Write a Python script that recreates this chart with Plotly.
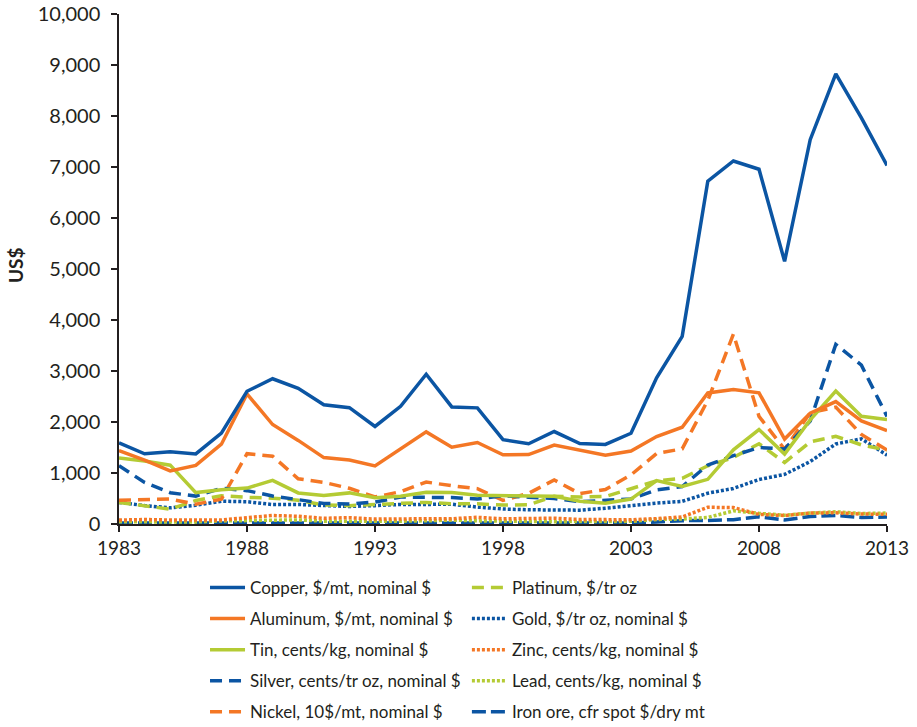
import plotly.graph_objects as go

years = list(range(1983, 2014))

copper = [1590, 1377, 1417, 1374, 1783, 2602, 2848, 2662, 2339, 2281, 1913, 2307, 2936, 2295, 2277,
          1654, 1573, 1813, 1578, 1560, 1779, 2866, 3679, 6722, 7118, 6956, 5150, 7535, 8828, 7962, 7030]
aluminum = [1439, 1251, 1041, 1150, 1565, 2551, 1951, 1639, 1302, 1254, 1139, 1477, 1806, 1506, 1599,
            1357, 1361, 1549, 1444, 1350, 1431, 1716, 1898, 2570, 2638, 2573, 1665, 2173, 2401, 2023, 1830]
tin = [1295, 1235, 1154, 616, 670, 704, 855, 609, 558, 610, 516, 546, 621, 616, 564,
       554, 540, 544, 448, 406, 489, 851, 737, 876, 1454, 1851, 1370, 2041, 2606, 2113, 2050]
silver = [1144, 814, 614, 547, 701, 654, 550, 482, 404, 394, 430, 528, 519, 518, 489,
          554, 525, 500, 437, 460, 491, 669, 734, 1157, 1341, 1500, 1469, 2020, 3522, 3115, 2110]
nickel = [467, 475, 490, 388, 487, 1378, 1330, 886, 816, 700, 529, 634, 823, 750, 693,
          463, 601, 864, 595, 677, 963, 1382, 1474, 2425, 3723, 2111, 1466, 2181, 2291, 1755, 1450]
platinum = [424, 357, 291, 461, 553, 523, 507, 467, 371, 360, 374, 405, 424, 397, 395,
            372, 377, 545, 529, 540, 692, 846, 897, 1142, 1303, 1574, 1205, 1610, 1719, 1551, 1450]
gold = [424, 361, 317, 368, 447, 437, 381, 383, 362, 344, 360, 384, 384, 388, 331,
        294, 279, 279, 271, 310, 363, 409, 445, 604, 697, 872, 973, 1225, 1569, 1670, 1350]
zinc = [77, 88, 78, 80, 80, 124, 166, 151, 112, 124, 96, 100, 103, 103, 131,
        102, 108, 113, 89, 78, 83, 105, 138, 327, 324, 188, 166, 216, 219, 195, 191]
lead = [43, 44, 39, 40, 60, 66, 67, 81, 56, 54, 41, 55, 63, 77, 62,
        53, 50, 45, 48, 45, 52, 89, 98, 129, 258, 209, 172, 215, 240, 206, 214]
iron_ore = [18, 18, 18, 17, 17, 17, 19, 21, 23, 22, 19, 17, 19, 19, 20,
            21, 19, 19, 20, 20, 22, 38, 65, 70, 85, 140, 80, 146, 168, 128, 135]

BLUE = "#0B55A3"
ORANGE = "#F47725"
GREEN = "#B4CB34"

series = [
    ("Copper, $/mt, nominal $", copper, BLUE, "solid", "legend", 1),
    ("Aluminum, $/mt, nominal $", aluminum, ORANGE, "solid", "legend", 2),
    ("Tin, cents/kg, nominal $", tin, GREEN, "solid", "legend", 3),
    ("Silver, cents/tr oz, nominal $", silver, BLUE, "12px,7px", "legend", 4),
    ("Nickel, 10$/mt, nominal $", nickel, ORANGE, "12px,7px", "legend", 5),
    ("Platinum, $/tr oz", platinum, GREEN, "12px,7px", "legend2", 1),
    ("Gold, $/tr oz, nominal $", gold, BLUE, "3px,2px", "legend2", 2),
    ("Zinc, cents/kg, nominal $", zinc, ORANGE, "3px,2px", "legend2", 3),
    ("Lead, cents/kg, nominal $", lead, GREEN, "3px,2px", "legend2", 4),
    ("Iron ore, cfr spot $/dry mt", iron_ore, BLUE, "14px,5px", "legend2", 5),
]

fig = go.Figure()
# draw in reverse so the solid main lines sit on top
for name, vals, color, dash, lg, rank in reversed(series):
    fig.add_trace(go.Scatter(
        x=years, y=vals, name=name, mode="lines",
        line=dict(color=color, width=3.5, dash=dash),
        legend=lg, legendrank=rank, legendgroup=name,
    ))

FONT = "Lato"
TXT = "#231F20"
legend_common = dict(
    orientation="v", yanchor="top", xanchor="left",
    font=dict(family=FONT, size=17, color=TXT),
    bgcolor="rgba(0,0,0,0)", tracegroupgap=6, traceorder="grouped",
    itemwidth=35,
)

fig.update_layout(
    width=917, height=727,
    margin=dict(l=119, r=30, t=14, b=203, autoexpand=False),
    plot_bgcolor="white", paper_bgcolor="white",
    font=dict(family=FONT, size=19, color=TXT),
    legend=dict(x=0.112, y=-0.090, **legend_common),
    legend2=dict(x=0.453, y=-0.090, **legend_common),
    xaxis=dict(
        range=[1983, 2013], tickvals=[1983, 1988, 1993, 1998, 2003, 2008, 2013],
        showline=True, linecolor=TXT, linewidth=1.5,
        ticks="outside", ticklen=6, tickcolor=TXT, tickwidth=1.5,
        showgrid=False, zeroline=False, ticklabeloverflow="allow",
        tickfont=dict(family=FONT, size=19, color=TXT),
    ),
    yaxis=dict(
        range=[0, 10000], tickvals=list(range(0, 10001, 1000)), tickformat=",d",
        showline=True, linecolor=TXT, linewidth=1.5,
        ticks="outside", ticklen=6, tickcolor=TXT, tickwidth=1.5,
        ticklabelstandoff=7, ticklabeloverflow="allow",
        showgrid=False, zeroline=False,
        tickfont=dict(family=FONT, size=20, color=TXT),
    ),
    annotations=[dict(
        text="<b>US$</b>", xref="paper", yref="paper",
        x=-0.134, y=0.508, xanchor="center", yanchor="middle",
        textangle=-90, showarrow=False,
        font=dict(family=FONT, size=19, color=TXT),
    )],
)

fig.write_html(
    "out.html",
    config={"displayModeBar": False},
    post_script="document.body.style.margin='0';document.body.style.overflow='hidden';",
)
